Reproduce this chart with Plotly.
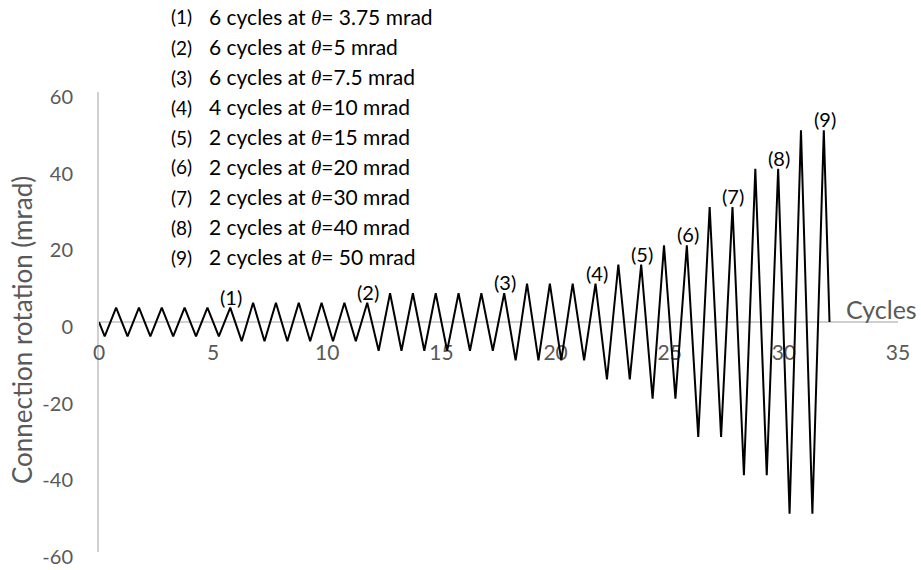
import plotly.graph_objects as go

# ---- data ----
cycles = [0,
          0.25, 0.75, 1.25, 1.75, 2.25, 2.75, 3.25, 3.75, 4.25, 4.75, 5.25, 5.75,
          6.25, 6.75, 7.25, 7.75, 8.25, 8.75, 9.25, 9.75, 10.25, 10.75, 11.25, 11.75,
          12.25, 12.75, 13.25, 13.75, 14.25, 14.75, 15.25, 15.75, 16.25, 16.75, 17.25, 17.75,
          18.25, 18.75, 19.25, 19.75, 20.25, 20.75, 21.25, 21.75,
          22.25, 22.75, 23.25, 23.75,
          24.25, 24.75, 25.25, 25.75,
          26.25, 26.75, 27.25, 27.75,
          28.25, 28.75, 29.25, 29.75,
          30.25, 30.75, 31.25, 31.75,
          32]
rotation = [0,
            -3.75, 3.75, -3.75, 3.75, -3.75, 3.75, -3.75, 3.75, -3.75, 3.75, -3.75, 3.75,
            -5, 5, -5, 5, -5, 5, -5, 5, -5, 5, -5, 5,
            -7.5, 7.5, -7.5, 7.5, -7.5, 7.5, -7.5, 7.5, -7.5, 7.5, -7.5, 7.5,
            -10, 10, -10, 10, -10, 10, -10, 10,
            -15, 15, -15, 15,
            -20, 20, -20, 20,
            -30, 30, -30, 30,
            -40, 40, -40, 40,
            -50, 50, -50, 50,
            0]

peak_x = [5.75, 11.75, 17.75, 21.75, 23.75, 25.75, 27.75, 29.75, 31.75]
peak_y = [3.75, 5, 7.5, 10, 15, 20, 30, 40, 50]
peak_labels = ["(1)", "(2)", "(3)", "(4)", "(5)", "(6)", "(7)", "(8)", "(9)"]

TH = '<span style="font-family:Liberation Serif"><i>θ</i></span>'
step_descriptions = [
    "6 cycles at " + TH + "= 3.75 mrad",
    "6 cycles at " + TH + "=5 mrad",
    "6 cycles at " + TH + "=7.5 mrad",
    "4 cycles at " + TH + "=10 mrad",
    "2 cycles at " + TH + "=15 mrad",
    "2 cycles at " + TH + "=20 mrad",
    "2 cycles at " + TH + "=30 mrad",
    "2 cycles at " + TH + "=40 mrad",
    "2 cycles at " + TH + "= 50 mrad",
]

x_ticks = [0, 5, 10, 15, 20, 25, 30, 35]
x_tick_text = ["0", "5", "10", "15", "20", "25", "30", "35"]
y_ticks = [-60, -40, -20, 0, 20, 40, 60]
y_tick_text = ["-60", "-40", "-20", "0", "20", "40", "60"]

# ---- layout geometry (pixels) ----
W, H = 921, 570
L, R, T, B = 99, 23, 92, 18
PW, PH = W - L - R, H - T - B


def px(xp):
    return (xp - L) / PW


def py(yp):
    return (H - B - yp) / PH


FONT = "Lato"
GRAY = "#595959"
AXIS = "#D0D0D0"

fig = go.Figure()
fig.add_trace(go.Scatter(
    x=cycles, y=rotation, mode="lines",
    line=dict(color="black", width=2),
    hoverinfo="skip", showlegend=False,
))

annotations = []
# peak labels, anchored to the data points
for xv, yv, lab in zip(peak_x, peak_y, peak_labels):
    annotations.append(dict(
        xref="x", yref="y", x=xv, y=yv,
        xanchor="center", yanchor="bottom", yshift=-3, xshift=1,
        showarrow=False, text=lab,
        font=dict(family=FONT, size=20, color="black"),
    ))

for i, (lab, desc) in enumerate(zip(peak_labels, step_descriptions)):
    yc = 17 + 30 * i
    annotations.append(dict(
        xref="paper", yref="paper", x=px(169), y=py(yc),
        xanchor="left", yanchor="middle", showarrow=False,
        text=lab, font=dict(family=FONT, size=19, color="black"),
    ))
    annotations.append(dict(
        xref="paper", yref="paper", x=px(207), y=py(yc),
        xanchor="left", yanchor="middle", showarrow=False,
        text=desc, font=dict(family=FONT, size=21, color="black"),
    ))

annotations.append(dict(
    xref="paper", yref="paper", x=px(919), y=py(309),
    xanchor="right", yanchor="middle", showarrow=False,
    text="Cycles", font=dict(family=FONT, size=25, color=GRAY),
))
annotations.append(dict(
    xref="paper", yref="paper", x=px(22), y=py(330),
    xanchor="center", yanchor="middle", showarrow=False, textangle=-90,
    text="Connection rotation (mrad)", font=dict(family=FONT, size=26, color=GRAY),
))

fig.update_layout(
    width=W, height=H,
    margin=dict(l=L, r=R, t=T, b=B, pad=0, autoexpand=False),
    paper_bgcolor="white", plot_bgcolor="white",
    showlegend=False,
    annotations=annotations,
    xaxis=dict(
        range=[0, 35], tickvals=x_ticks, ticktext=x_tick_text,
        anchor="free", position=0.5, automargin=False,
        showline=True, linecolor=AXIS, linewidth=2,
        showgrid=False, zeroline=False, ticks="",
        ticklabelstandoff=12,
        tickfont=dict(family=FONT, size=21, color=GRAY),
        layer="below traces", fixedrange=True,
    ),
    yaxis=dict(
        range=[-60, 60], tickvals=y_ticks, ticktext=y_tick_text,
        automargin=False,
        showline=True, linecolor=AXIS, linewidth=2,
        showgrid=False, zeroline=False, ticks="",
        ticklabelstandoff=20, ticklabelshift=5,
        tickfont=dict(family=FONT, size=20, color=GRAY),
        layer="below traces", fixedrange=True,
    ),
)

fig.write_html(
    "out.html",
    config={"displayModeBar": False},
    post_script="document.body.style.margin='0';document.body.style.overflow='hidden';",
)
